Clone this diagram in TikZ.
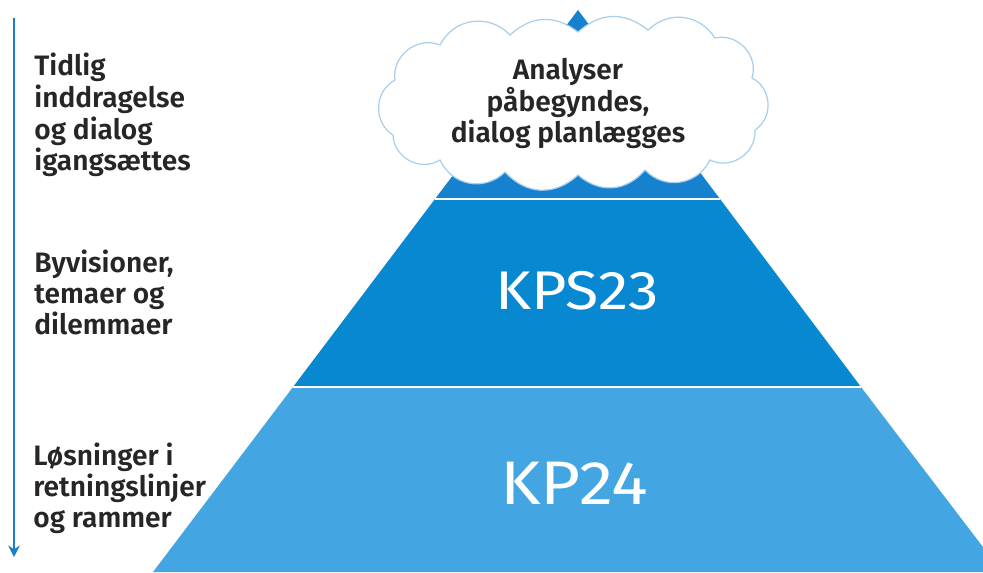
\documentclass[tikz,border=0pt]{standalone}
\usepackage{fontspec}
\IfFontExistsTF{Fira Sans SemiBold}{\setmainfont{Fira Sans SemiBold}}{\IfFontExistsTF{Fira Sans Medium}{\setmainfont{Fira Sans Medium}}{\setmainfont{Fira Sans}}}
\newfontfamily\kpfont{Fira Sans}[FakeStretch=1.12]
\usetikzlibrary{arrows.meta}
\definecolor{topblue}{HTML}{1581CF}
\definecolor{midblue}{HTML}{0788D1}
\definecolor{lowblue}{HTML}{43A6E3}
\definecolor{arrowblue}{HTML}{1C7FC6}
\definecolor{cloudline}{HTML}{A8CFEC}
\definecolor{textdark}{HTML}{262626}
\begin{document}
\begin{tikzpicture}[x=0.02cm,y=-0.02cm,
  lbl/.style={align=left,anchor=north west,inner sep=0pt,text=textdark,
    font=\fontsize{16}{17.6}\selectfont},
  cloudtxt/.style={align=center,anchor=north,inner sep=0pt,text=textdark,
    font=\fontsize{16}{17.9}\selectfont},
  kp/.style={inner sep=0pt,text=white,anchor=center},
  divider/.style={white,line width=0.8pt},
  flow/.style={arrowblue,line width=1.6pt,-{Stealth[length=6.5pt,width=6.5pt]}},
  cloudedge/.style={draw=cloudline,fill=white,line width=0.7pt,looseness=1.1},
  puff/.style={bend left=#1}]
\useasboundingbox (0,0) rectangle (983,572);
\begin{scope}
\clip (0,0) rectangle (983,572);
\coordinate (apex) at (578,10);
\coordinate (l1) at (435,199); \coordinate (r1) at (720,199);
\coordinate (l2) at (293,387); \coordinate (r2) at (861,387);
\coordinate (l3) at (153,572); \coordinate (r3) at (1002,572);
\fill[topblue] (apex) -- (r1) -- (l1) -- cycle;
\fill[midblue] (l1) -- (r1) -- (r2) -- (l2) -- cycle;
\fill[lowblue] (l2) -- (r2) -- (r3) -- (l3) -- cycle;
\draw[divider] (l1) -- (r1);
\draw[divider] (l2) -- (r2);
\end{scope}
% cloud
\coordinate (c1) at (393,135);
\coordinate (c2) at (395,80);
\coordinate (c3) at (440,45);
\coordinate (c4) at (510,35);
\coordinate (c5) at (578,32);
\coordinate (c6) at (648,30);
\coordinate (c7) at (715,38);
\coordinate (c8) at (752,78);
\coordinate (c9) at (755,130);
\coordinate (c10) at (710,160);
\coordinate (c11) at (645,170);
\coordinate (c12) at (578,175);
\coordinate (c13) at (505,172);
\coordinate (c14) at (440,160);
\path[cloudedge] (c1) to[puff=60] (c2) to[puff=60] (c3) to[puff=55] (c4)
  to[puff=40] (c5) to[puff=40] (c6) to[puff=50] (c7) to[puff=60] (c8)
  to[puff=60] (c9) to[puff=60] (c10) to[puff=55] (c11) to[puff=45] (c12)
  to[puff=45] (c13) to[puff=55] (c14) to[puff=60] (c1) -- cycle;
\node[cloudtxt] (cloudtext) at (568,58) {Analyser\\påbegyndes,\\dialog planlægges};
\node[kp,font=\kpfont\fontsize{31}{32}\selectfont] (kps) at (577,291) {KPS23};
\node[kp,font=\kpfont\fontsize{35}{36}\selectfont] (kp) at (574,483) {KP24};
\coordinate (atop) at (14,18);
\coordinate (abot) at (14,557);
\draw[flow] (atop) -- (abot);
\node[lbl,font=\fontsize{16}{18}\selectfont] (t1) at (34,53) {Tidlig\\inddragelse\\og dialog\\igangsættes};
\node[lbl] (t2) at (34,250) {Byvisioner,\\temaer og\\dilemmaer};
\node[lbl] (t3) at (33,443) {Løsninger i\\retningslinjer\\og rammer};
\end{tikzpicture}
\end{document}
